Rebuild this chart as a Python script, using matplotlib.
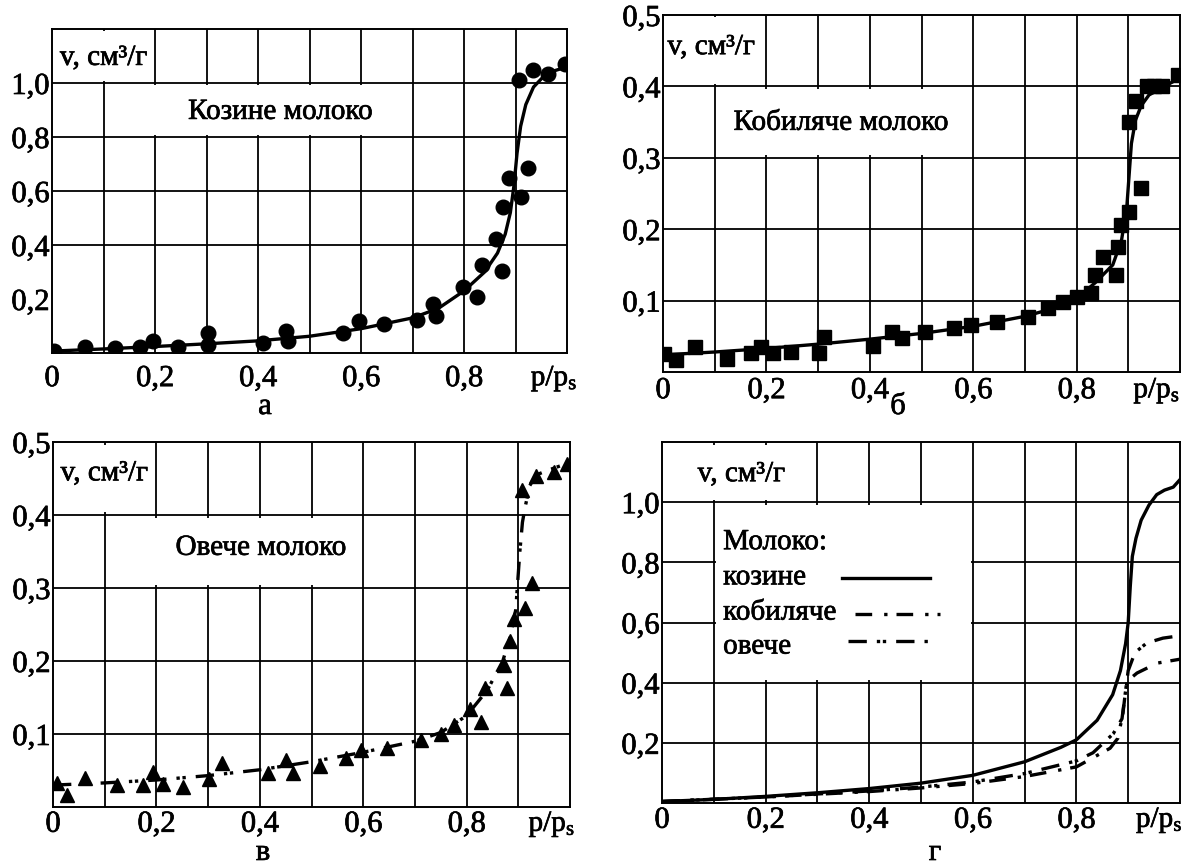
import matplotlib
matplotlib.use('Agg')
import matplotlib.pyplot as plt
import matplotlib.patheffects as pe
from matplotlib.patches import Rectangle

plt.rcParams['font.family'] = ['Liberation Serif', 'DejaVu Serif']
plt.rcParams['mathtext.fontset'] = 'custom'
plt.rcParams['mathtext.rm'] = 'Liberation Serif'
plt.rcParams['mathtext.it'] = 'Liberation Serif:italic'

# --- а: козине молоко (points + fitted curve)
goat_x = [0.004, 0.064, 0.122, 0.171, 0.196, 0.245, 0.303, 0.303, 0.41, 0.454,
          0.459, 0.565, 0.596, 0.645, 0.709, 0.74, 0.746, 0.799, 0.825, 0.835,
          0.874, 0.862, 0.876, 0.888, 0.925, 0.911, 0.907, 0.934, 0.963, 0.996]
goat_y = [0.007, 0.022, 0.019, 0.022, 0.044, 0.022, 0.074, 0.03, 0.037, 0.081,
          0.044, 0.074, 0.119, 0.107, 0.122, 0.181, 0.137, 0.244, 0.207, 0.326,
          0.304, 0.422, 0.541, 0.648, 0.685, 0.578, 1.011, 1.048, 1.033, 1.07]
goat_fit_x = [0.0, 0.1, 0.2, 0.3, 0.4, 0.5, 0.6, 0.7, 0.75, 0.8, 0.84, 0.865,
              0.88, 0.89, 0.897, 0.903, 0.91, 0.92, 0.935, 0.955, 0.975, 1.0]
goat_fit_y = [0.007, 0.015, 0.024, 0.034, 0.045, 0.062, 0.09, 0.13, 0.165, 0.23,
              0.3, 0.37, 0.44, 0.52, 0.62, 0.74, 0.84, 0.92, 0.985, 1.025, 1.045, 1.06]

# --- б: кобиляче молоко
mare_x = [0.002, 0.025, 0.062, 0.123, 0.17, 0.189, 0.212, 0.247, 0.302, 0.312,
          0.407, 0.442, 0.462, 0.507, 0.563, 0.595, 0.647, 0.706, 0.745, 0.774,
          0.8, 0.828, 0.836, 0.852, 0.877, 0.881, 0.885, 0.902, 0.924, 0.902,
          0.914, 0.936, 0.95, 0.965, 0.996]
mare_y = [0.025, 0.017, 0.035, 0.018, 0.027, 0.035, 0.027, 0.028, 0.027, 0.049,
          0.036, 0.056, 0.048, 0.056, 0.062, 0.066, 0.07, 0.077, 0.09, 0.098,
          0.105, 0.111, 0.136, 0.161, 0.136, 0.175, 0.206, 0.224, 0.258, 0.35,
          0.38, 0.401, 0.401, 0.401, 0.416]
mare_fit_x = [0.0, 0.1, 0.2, 0.3, 0.4, 0.5, 0.6, 0.7, 0.75, 0.8, 0.836, 0.87,
              0.887, 0.897, 0.902, 0.906, 0.914, 0.925, 0.94, 0.97, 1.0]
mare_fit_y = [0.024, 0.028, 0.033, 0.039, 0.046, 0.054, 0.064, 0.078, 0.088, 0.103,
              0.125, 0.15, 0.185, 0.23, 0.28, 0.32, 0.353, 0.373, 0.388, 0.4, 0.412]

# --- в: овече молоко
sheep_x = [0.008, 0.027, 0.062, 0.124, 0.175, 0.194, 0.212, 0.252, 0.301, 0.326,
           0.415, 0.45, 0.464, 0.517, 0.567, 0.596, 0.647, 0.711, 0.75, 0.775,
           0.806, 0.827, 0.835, 0.878, 0.872, 0.884, 0.891, 0.913, 0.926, 0.907,
           0.934, 0.969, 0.994]
sheep_y = [0.033, 0.016, 0.04, 0.03, 0.03, 0.048, 0.032, 0.027, 0.038, 0.06,
           0.047, 0.064, 0.046, 0.056, 0.067, 0.078, 0.081, 0.092, 0.1, 0.112,
           0.134, 0.116, 0.163, 0.163, 0.195, 0.227, 0.257, 0.273, 0.307, 0.434,
           0.453, 0.459, 0.47]
sheep_fit_x = [0.0, 0.1, 0.2, 0.3, 0.4, 0.5, 0.6, 0.7, 0.75, 0.8, 0.84, 0.87,
               0.885, 0.895, 0.903, 0.908, 0.913, 0.922, 0.935, 0.96, 1.0]
sheep_fit_y = [0.03, 0.033, 0.037, 0.043, 0.051, 0.062, 0.075, 0.09, 0.102, 0.125,
               0.16, 0.2, 0.235, 0.27, 0.35, 0.39, 0.41, 0.44, 0.455, 0.462, 0.472]

# --- г: comparison curves
cmp_goat_x = [0.0, 0.1, 0.2, 0.3, 0.4, 0.5, 0.6, 0.7, 0.77, 0.8, 0.84, 0.87, 0.885,
              0.895, 0.9, 0.904, 0.908, 0.915, 0.925, 0.94, 0.955, 0.97, 0.987, 1.0]
cmp_goat_y = [0.005, 0.012, 0.022, 0.034, 0.048, 0.066, 0.092, 0.137, 0.185, 0.21,
              0.275, 0.36, 0.44, 0.53, 0.6, 0.72, 0.82, 0.88, 0.94, 0.99, 1.025,
              1.04, 1.05, 1.075]
cmp_sheep_x = [0.0, 0.2, 0.4, 0.5, 0.6, 0.7, 0.8, 0.832, 0.871, 0.888, 0.894, 0.9,
               0.913, 0.936, 0.967, 1.0]
cmp_sheep_y = [0.005, 0.02, 0.04, 0.053, 0.07, 0.098, 0.14, 0.167, 0.23, 0.28, 0.36,
               0.44, 0.5, 0.532, 0.548, 0.556]
cmp_mare_x = [0.0, 0.2, 0.4, 0.5, 0.6, 0.7, 0.8, 0.865, 0.88, 0.89, 0.894, 0.898,
              0.917, 0.956, 1.0]
cmp_mare_y = [0.005, 0.02, 0.038, 0.05, 0.065, 0.088, 0.12, 0.182, 0.215, 0.3, 0.36,
              0.405, 0.432, 0.465, 0.478]

XTICKS = [0, 0.2, 0.4, 0.6, 0.8]
MARE_DASH = (5, 3.6, 1, 2.7)
SHEEP_DASH = (5.5, 3, 1, 0.8, 1, 3)
INK = [pe.withStroke(linewidth=0.5, foreground='k')]  # heavier print look

W, H = 1190, 866
fig = plt.figure(figsize=(W / 100, H / 100), dpi=100)


def fmt(v):
    return '0' if v == 0 else f'{v:.1f}'.replace('.', ',')


def label(ax, x, y, s, **kw):
    kw.setdefault('ha', 'center')
    ax.text(x, y, s, va='center', fontsize=21, zorder=6, path_effects=INK, **kw)


def panel(px, ymax, yticks, ygrid, boxes, xpad, pxs):
    l, t, r, b = px
    ax = fig.add_axes([l / W, 1 - b / H, (r - l) / W, (b - t) / H])
    ax.set_xlim(0, 1)
    ax.set_ylim(0, ymax)
    ax.set_xticks(XTICKS, [fmt(v) for v in XTICKS])
    ax.set_yticks(yticks, [fmt(v) for v in yticks])
    ax.tick_params(length=0, labelsize=22)
    ax.tick_params(axis='x', pad=xpad)
    ax.tick_params(axis='y', pad=2)
    for tk in ax.xaxis.get_major_ticks() + ax.yaxis.get_major_ticks():
        tk.label1.set_path_effects(INK)
    for s in ax.spines.values():
        s.set_linewidth(1.4)
        s.set_zorder(5)
    ax.vlines([0.1 * i for i in range(1, 10)], 0, ymax, color='k', lw=1.3, zorder=1)
    ax.hlines(ygrid, 0, 1, color='k', lw=1.3, zorder=1)
    ex, ey = 0.004, 0.007 * ymax
    for x0, x1, y0, y1 in boxes:
        ax.add_patch(Rectangle((x0 + ex, y0 + ey), x1 - x0 - 2 * ex, y1 - y0 - 2 * ey,
                               facecolor='white', edgecolor='none', zorder=2))
    ax.annotate('p/p$_\\mathregular{s}$', (pxs, 0), xycoords='axes fraction',
                xytext=(0, -xpad), textcoords='offset points',
                ha='center', va='top', fontsize=21, path_effects=INK)
    return ax


# а
ax = panel((52, 29, 567, 353), 1.2, [0.2, 0.4, 0.6, 0.8, 1.0], [0.4, 0.6, 0.8, 1.0],
           [(0, 0.2, 1.0, 1.2), (0.1, 0.7, 0.8, 1.0)], 8, 0.975)
ax.plot(goat_fit_x, goat_fit_y, color='k', lw=2.4, zorder=3)
ax.plot(goat_x, goat_y, 'o', color='k', ms=10.5, zorder=4)
label(ax, 0.1, 1.093, 'v, см³/г')
label(ax, 0.443, 0.893, 'Козине молоко')

# б
ax = panel((663, 15, 1180, 372), 0.5, [0.1, 0.2, 0.3, 0.4, 0.5], [0.1, 0.2, 0.3, 0.4],
           [(0, 0.2, 0.4, 0.5), (0.1, 0.6, 0.3, 0.4)], 3, 0.955)
ax.plot(mare_fit_x, mare_fit_y, color='k', lw=2.4, zorder=3)
ax.plot(mare_x, mare_y, 's', color='k', ms=9.5, zorder=4)
label(ax, 0.093, 0.455, 'v, см³/г')
label(ax, 0.344, 0.349, 'Кобиляче молоко')

# в
ax = panel((53, 442, 570, 807), 0.5, [0.1, 0.2, 0.3, 0.4, 0.5], [0.1, 0.2, 0.3, 0.4],
           [(0, 0.2, 0.4, 0.5), (0.1, 0.6, 0.3, 0.4)], 2, 0.965)
ln, = ax.plot(sheep_fit_x, sheep_fit_y, color='k', lw=2.4, zorder=3)
ln.set_dashes(SHEEP_DASH)
ax.plot(sheep_x, sheep_y, '^', color='k', ms=10, zorder=4)
label(ax, 0.099, 0.457, 'v, см³/г')
label(ax, 0.402, 0.355, 'Овече молоко')

# г
ax = panel((662, 442, 1180, 803), 1.2, [0.2, 0.4, 0.6, 0.8, 1.0], [0.2, 0.4, 0.6, 0.8, 1.0],
           [(0, 0.3, 1.0, 1.2), (0.1, 0.6, 0.4, 1.0)], 2, 0.96)
ax.plot(cmp_goat_x, cmp_goat_y, color='k', lw=2.4, zorder=3)
ln, = ax.plot(cmp_sheep_x, cmp_sheep_y, color='k', lw=2.4, zorder=3)
ln.set_dashes(SHEEP_DASH)
ln, = ax.plot(cmp_mare_x, cmp_mare_y, color='k', lw=2.4, zorder=3)
ln.set_dashes(MARE_DASH)
label(ax, 0.153, 1.093, 'v, см³/г')
for txt, yy in [('Молоко:', 0.867), ('козине', 0.75), ('кобиляче', 0.633), ('овече', 0.52)]:
    label(ax, 0.118, yy, txt, ha='left')
ax.plot([0.347, 0.517], [0.747, 0.747], color='k', lw=2.4, zorder=6)
ln, = ax.plot([0.373, 0.537], [0.627, 0.627], color='k', lw=2.4, zorder=6)
ln.set_dashes(MARE_DASH)
ln, = ax.plot([0.359, 0.517], [0.537, 0.537], color='k', lw=2.4, zorder=6)
ln.set_dashes(SHEEP_DASH)

for letter, x, y in [('а', 265, 414), ('б', 898, 414), ('в', 263, 860), ('г', 935, 860)]:
    fig.text(x / W, 1 - y / H, letter, ha='center', va='baseline', fontsize=22,
             path_effects=INK)

fig.savefig('out.png', dpi=100, facecolor='white')
